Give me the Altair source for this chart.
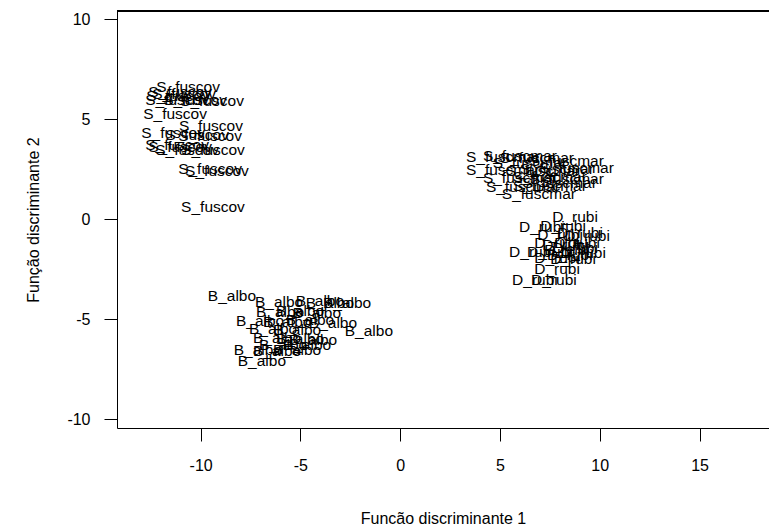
import altair as alt
import pandas as pd

# Discriminant scores per group (Função discriminante 1, Função discriminante 2)
s_fuscov_x = [-10.63, -11.03, -10.83, -11.13, -11.18, -10.28, -9.43, -11.28, -9.48,
              -11.38, -10.18, -9.53, -11.18, -11.03, -10.68, -9.38, -9.53, -9.18, -9.38]
s_fuscov_y = [6.6, 6.35, 6.25, 6.15, 5.95, 5.95, 5.9, 5.25, 4.65,
              4.3, 4.2, 4.15, 3.7, 3.6, 3.45, 3.45, 2.5, 2.4, 0.6]

s_fuscmar_x = [5.15, 6.0, 6.85, 8.35, 5.15, 7.85, 7.15, 8.85, 6.0, 7.5, 8.35,
               6.15, 7.5, 6.95, 6.5, 8.0]
s_fuscmar_y = [3.1, 3.15, 3.05, 2.9, 2.45, 2.5, 2.4, 2.55, 2.05, 2.1, 2.0,
               1.6, 1.65, 1.25, 2.8, 1.8]

d_rubi_x = [8.76, 7.1, 8.16, 8.01, 9.01, 9.36, 7.86, 8.86, 6.6, 7.5, 8.36, 9.16,
            7.86, 8.66, 7.86, 6.75, 7.7, 8.26, 8.76, 8.5]
d_rubi_y = [0.1, -0.4, -0.35, -0.8, -0.7, -0.85, -1.2, -1.2, -1.65, -1.65, -1.55, -1.7,
            -1.95, -2.0, -2.5, -3.05, -3.05, -1.3, -1.45, -1.8]

b_albo_x = [-8.43, -6.07, -4.02, -3.52, -2.66, -6.02, -5.02, -4.17, -7.02, -5.66, -4.52,
            -3.37, -1.57, -6.37, -5.17, -6.17, -5.02, -4.37, -5.87, -4.67, -7.13, -6.17,
            -5.17, -6.93]
b_albo_y = [-3.85, -4.15, -4.1, -4.2, -4.2, -4.65, -4.6, -4.7, -5.1, -5.15, -5.05,
            -5.2, -5.6, -5.5, -5.55, -5.95, -6.0, -6.05, -6.3, -6.3, -6.55, -6.6,
            -6.55, -7.1]

groups = ["S_fuscov", "S_fuscmar", "D_rubi", "B_albo"]
xs = [s_fuscov_x, s_fuscmar_x, d_rubi_x, b_albo_x]
ys = [s_fuscov_y, s_fuscmar_y, d_rubi_y, b_albo_y]

x_ticks = [-10, -5, 0, 5, 10, 15]
y_ticks = [-10, -5, 0, 5, 10]

rows = []
for g, gx, gy in zip(groups, xs, ys):
    for a, b in zip(gx, gy):
        rows.append({"ld1": a, "ld2": b, "grupo": g})
df = pd.DataFrame(rows)

FONT = "Liberation Sans"
W, H = 652, 417

text = alt.Chart(df).mark_text(
    font=FONT, fontSize=15.5, color="black", align="center", baseline="middle"
).encode(
    x=alt.X("ld1:Q", scale=alt.Scale(domain=[-14.19, 18.48], nice=False, zero=False),
            axis=alt.Axis(values=x_ticks, title="Funcão discriminante 1",
                          grid=False, tickSize=13, labelPadding=16,
                          labelExpr="'' + datum.value",
                          titleY=95, titleBaseline="alphabetic", titleAnchor="middle")),
    y=alt.Y("ld2:Q", scale=alt.Scale(domain=[-10.45, 10.4], nice=False, zero=False),
            axis=alt.Axis(values=y_ticks, title="Função discriminante 2",
                          grid=False, tickSize=13, labelPadding=14,
                          labelExpr="'' + datum.value",
                          titleX=-84, titleY=H / 2, titleAngle=270,
                          titleBaseline="middle", titleAlign="center")),
    text="grupo:N",
)

top_line = alt.Chart(df).mark_rule(color="black", strokeWidth=1).encode(
    x=alt.value(0), x2=alt.value(W), y=alt.value(0)
)

chart = alt.layer(text, top_line).properties(
    width=W, height=H,
    padding={"left": 117, "top": 11, "right": 0, "bottom": 104},
    autosize=alt.AutoSizeParams(type="none"),
    background="white",
).configure_view(stroke=None).configure_axis(
    labelFont=FONT, labelFontSize=16, labelColor="black",
    titleFont=FONT, titleFontSize=16, titleColor="black", titleFontWeight="normal",
    domainColor="black", tickColor="black", domainWidth=1, tickWidth=1,
).configure_axisY(labelAngle=0, labelAlign="right", labelBaseline="middle")

chart.save("out.html", embed_options={"renderer": "svg", "actions": False})
